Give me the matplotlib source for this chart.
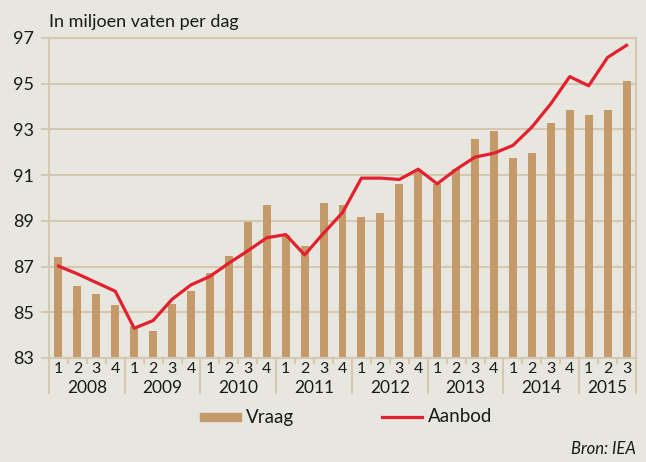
import numpy as np
import matplotlib.pyplot as plt
from matplotlib.patches import Rectangle
from matplotlib.lines import Line2D

plt.rcParams['font.family'] = ['Lato', 'DejaVu Sans']

years = ['2008', '2009', '2010', '2011', '2012', '2013', '2014', '2015']
quarters = ['1', '2', '3', '4'] * 7 + ['1', '2', '3']

# vraag (bars) and aanbod (line), miljoen vaten per dag
vraag = [87.40, 86.17, 85.78, 85.34,
         84.42, 84.20, 85.38, 85.91,
         86.70, 87.48, 88.97, 89.71,
         88.40, 87.88, 89.76, 89.71,
         89.19, 89.36, 90.63, 91.17,
         90.63, 91.28, 92.56, 92.91,
         91.77, 91.99, 93.30, 93.87,
         93.61, 93.87, 95.10]
aanbod = [87.02, 86.68, 86.30, 85.92,
          84.30, 84.64, 85.57, 86.20,
          86.57, 87.15, 87.69, 88.26,
          88.40, 87.51, 88.46, 89.36,
          90.87, 90.87, 90.81, 91.26,
          90.62, 91.25, 91.79, 91.96,
          92.30, 93.10, 94.12, 95.31,
          94.91, 96.15, 96.68]

bg = '#e8e7df'
grid_c = '#d3c9b3'
bar_c = '#c49a6a'
line_c = '#e3202e'
txt_c = '#1a1a1a'

fig = plt.figure(figsize=(6.46, 4.62), dpi=100, facecolor=bg)
ax = fig.add_axes([49 / 646, 1 - 358 / 462, 587 / 646, 320 / 462], facecolor=bg)

x = np.arange(len(vraag))
ax.bar(x, np.array(vraag) - 83, bottom=83, width=0.42, color=bar_c, zorder=2)
ax.plot(x, aanbod, color=line_c, lw=2.3, zorder=3)

ax.set_xlim(-0.5, len(vraag) - 0.5)
ax.set_ylim(83, 97)
ax.set_yticks(range(83, 98, 2))
ax.yaxis.grid(True, color=grid_c, lw=1.5, zorder=1)
ax.set_xticks([])
ax.tick_params(axis='y', length=6, width=1.5, color=grid_c, labelsize=13,
               labelcolor=txt_c, pad=5)
for s in ax.spines.values():
    s.set_color(grid_c)
    s.set_linewidth(1.5)

trans = ax.get_xaxis_transform()
for i, q in enumerate(quarters):
    ax.text(i, -0.033, q, transform=trans, ha='center', va='center',
            fontsize=11.5, color=txt_c)
# small separators between quarters, long ones between years
for b in np.arange(-0.5, len(vraag), 1.0):
    idx = b + 0.5
    if idx % 4 == 0 or idx == len(vraag):
        ax.plot([b, b], [0, -0.11], transform=trans, color=grid_c, lw=1.5, clip_on=False)
    else:
        ax.plot([b, b], [0, -0.016], transform=trans, color=grid_c, lw=1.5, clip_on=False)
for k, y in enumerate(years):
    start = 4 * k
    end = min(4 * k + 3, len(vraag) - 1)
    ax.text((start + end) / 2, -0.094, y, transform=trans, ha='center', va='center',
            fontsize=12.5, color=txt_c)

fig.text(49 / 646, 1 - 22 / 462, 'In miljoen vaten per dag', ha='left', va='center',
         fontsize=13, color=txt_c)

# legend
fig.patches.append(Rectangle((200 / 646, 1 - 421 / 462), 41 / 646, 8.5 / 462,
                             transform=fig.transFigure, color=bar_c))
fig.text(246 / 646, 1 - 417 / 462, 'Vraag', ha='left', va='center', fontsize=13.5, color=txt_c)
fig.lines.append(Line2D([382 / 646, 422 / 646], [1 - 417 / 462] * 2,
                        transform=fig.transFigure, color=line_c, lw=2.3))
fig.text(428 / 646, 1 - 417 / 462, 'Aanbod', ha='left', va='center', fontsize=13.5, color=txt_c)

fig.text(636 / 646, 1 - 449 / 462, 'Bron: IEA', ha='right', va='center', fontsize=12,
         style='italic', color=txt_c)

fig.savefig('out.png', dpi=100, facecolor=bg)
